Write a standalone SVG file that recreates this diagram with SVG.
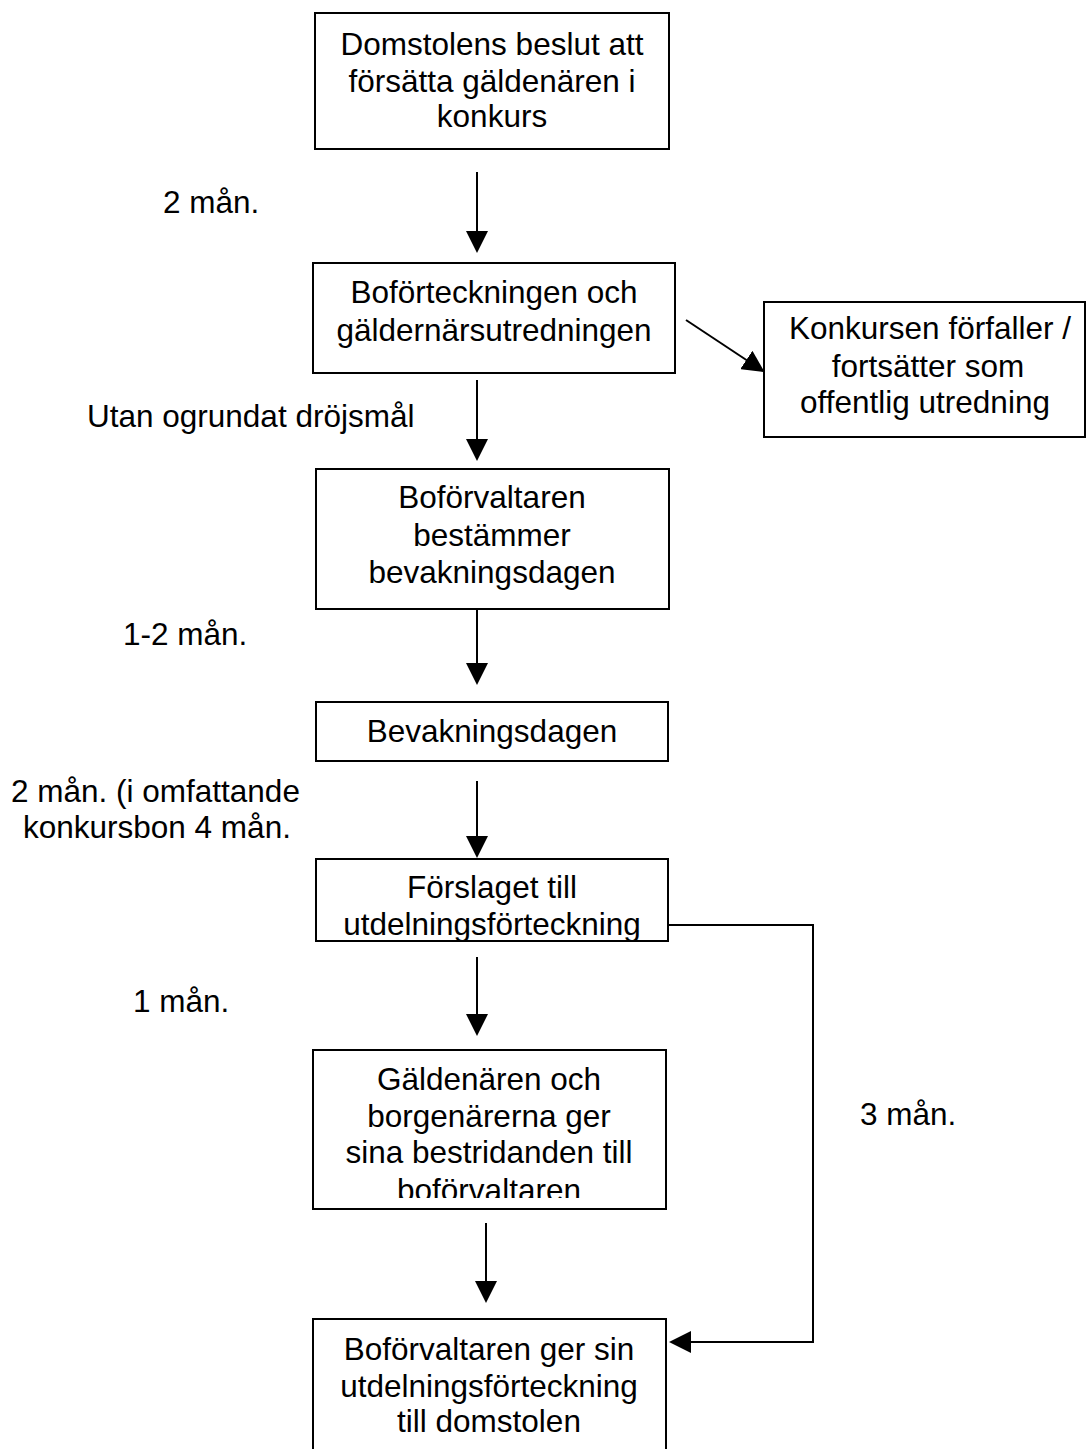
<svg xmlns="http://www.w3.org/2000/svg" width="1088" height="1449" viewBox="0 0 1088 1449">
<style>
.box{fill:#fff;stroke:#000;stroke-width:2}
.t{font-family:"Liberation Sans",Arial,sans-serif;font-size:31.5px;fill:#000}
.c{text-anchor:middle}
.ln{fill:none;stroke:#000;stroke-width:2}
</style>
<defs>
<marker id="ah" markerUnits="userSpaceOnUse" markerWidth="22" markerHeight="22" refX="20" refY="11" orient="auto">
<path d="M0,0 L22,11 L0,22 z" fill="#000"/>
</marker>
<clipPath id="clip7"><rect x="313" y="1050" width="353" height="148"/></clipPath>
</defs>
<rect width="1088" height="1449" fill="#fff"/>
<g id="connectors">
<line class="ln" x1="477" y1="172" x2="477" y2="251" marker-end="url(#ah)"/>
<line class="ln" x1="477" y1="380" x2="477" y2="459" marker-end="url(#ah)"/>
<line class="ln" x1="477" y1="605" x2="477" y2="683" marker-end="url(#ah)"/>
<line class="ln" x1="477" y1="781" x2="477" y2="856" marker-end="url(#ah)"/>
<line class="ln" x1="477" y1="957" x2="477" y2="1034" marker-end="url(#ah)"/>
<line class="ln" x1="486" y1="1223" x2="486" y2="1301" marker-end="url(#ah)"/>
<line class="ln" x1="686" y1="320" x2="763" y2="371" marker-end="url(#ah)"/>
<polyline class="ln" points="668,925 813,925 813,1342 671,1342" marker-end="url(#ah)"/>
</g>
<g id="labels">
<text class="t" x="163" y="213">2 mån.</text>
<text class="t" x="87" y="427">Utan ogrundat dröjsmål</text>
<text class="t" x="123" y="645">1-2 mån.</text>
<text class="t" x="11" y="802">2 mån. (i omfattande</text>
<text class="t" x="23" y="838">konkursbon 4 mån.</text>
<text class="t" x="133" y="1012">1 mån.</text>
<text class="t" x="860" y="1125">3 mån.</text>
</g>
<g id="n1">
<rect class="box" x="315" y="13" width="354" height="136"/>
<text class="t c" x="492" y="55">Domstolens beslut att</text>
<text class="t c" x="492" y="92">försätta gäldenären i</text>
<text class="t c" x="492" y="127">konkurs</text>
</g>
<g id="n2">
<rect class="box" x="313" y="263" width="362" height="110"/>
<text class="t c" x="494" y="303">Boförteckningen och</text>
<text class="t c" x="494" y="341">gäldernärsutredningen</text>
</g>
<g id="n3">
<rect class="box" x="316" y="469" width="353" height="140"/>
<text class="t c" x="492" y="508">Boförvaltaren</text>
<text class="t c" x="492" y="546">bestämmer</text>
<text class="t c" x="492" y="583">bevakningsdagen</text>
</g>
<g id="n4">
<rect class="box" x="764" y="302" width="321" height="135"/>
<text class="t c" x="930" y="339">Konkursen förfaller /</text>
<text class="t c" x="928" y="377">fortsätter som</text>
<text class="t c" x="925" y="413">offentlig utredning</text>
</g>
<g id="n5">
<rect class="box" x="316" y="702" width="352" height="59"/>
<text class="t c" x="492" y="742">Bevakningsdagen</text>
</g>
<g id="n6">
<rect class="box" x="316" y="859" width="352" height="82"/>
<text class="t c" x="492" y="898">Förslaget till</text>
<text class="t c" x="492" y="935">utdelningsförteckning</text>
</g>
<g id="n7">
<rect class="box" x="313" y="1050" width="353" height="159"/>
<text class="t c" x="489" y="1090">Gäldenären och</text>
<text class="t c" x="489" y="1127">borgenärerna ger</text>
<text class="t c" x="489" y="1163">sina bestridanden till</text>
<text class="t c" x="489" y="1201" clip-path="url(#clip7)">boförvaltaren</text>
</g>
<g id="n8">
<rect class="box" x="313" y="1319" width="353" height="150"/>
<text class="t c" x="489" y="1360">Boförvaltaren ger sin</text>
<text class="t c" x="489" y="1397">utdelningsförteckning</text>
<text class="t c" x="489" y="1432">till domstolen</text>
</g>
</svg>
